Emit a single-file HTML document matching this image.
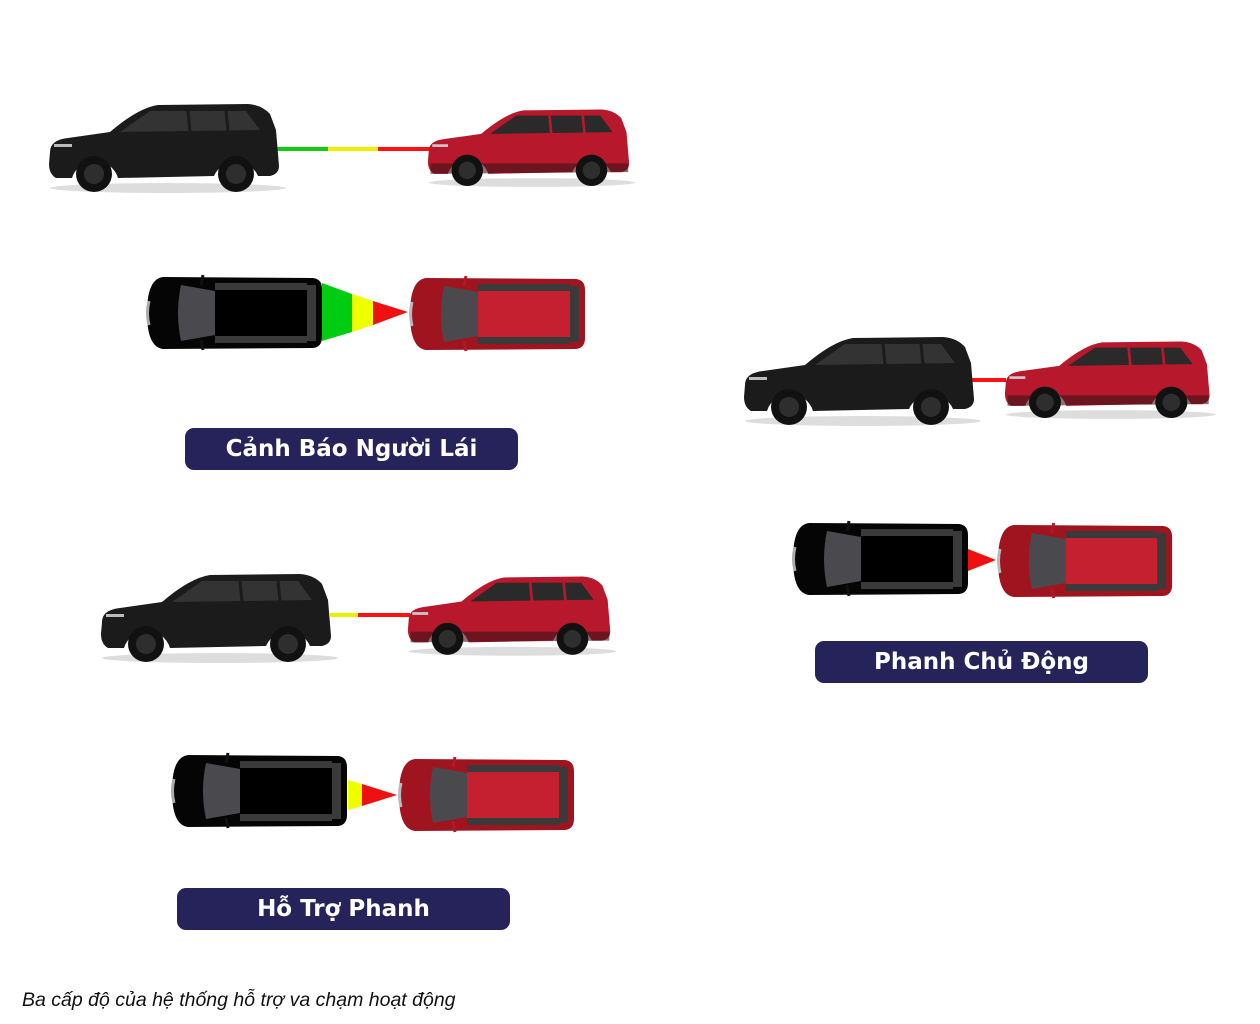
<!DOCTYPE html>
<html><head><meta charset="utf-8"><style>
html,body{margin:0;padding:0;background:#fff;}
body{width:1260px;height:1024px;position:relative;overflow:hidden;font-family:"Liberation Sans",sans-serif;}
.lbl{position:absolute;background:#25235a;color:#fff;border-radius:9px;height:42px;width:333px;text-align:center;font:bold 23px/43px "DejaVu Sans","Liberation Sans",sans-serif;}
.cap{position:absolute;left:22px;top:989px;font:italic 19.5px "Liberation Sans",sans-serif;color:#111;}
</style></head><body>
<svg width="1260" height="1024" style="position:absolute;left:0;top:0">
<defs>
<g id="sideB">
 <ellipse cx="120" cy="88" rx="118" ry="5" fill="#ddd"/>
 <path d="M2,52 Q2,40 20,38 L62,32 Q90,8 110,5 L200,4 Q214,5 222,14 L228,30 L231,66 Q231,74 222,76 L210,76 A24,24 0 0 0 166,76 L70,78 A24,24 0 0 0 24,78 L8,78 Q1,74 1,64 Z" fill="#1b1b1b"/>
 <path d="M72,32 L102,11 L198,11 L212,30 Z" fill="#333"/>
 <path d="M140,11 L142,32 M178,11 L180,31" stroke="#1b1b1b" stroke-width="3"/>
 <circle cx="46" cy="74" r="18" fill="#111"/><circle cx="46" cy="74" r="10" fill="#2e2e2e"/>
 <circle cx="188" cy="74" r="18" fill="#111"/><circle cx="188" cy="74" r="10" fill="#2e2e2e"/>
 <rect x="6" y="44" width="18" height="3" fill="#bbb"/>
</g>
<g id="sideR">
 <ellipse cx="120" cy="88" rx="118" ry="5" fill="#ddd"/>
 <path d="M2,52 Q2,40 20,38 L62,32 Q90,8 110,5 L200,4 Q214,5 222,14 L228,30 L231,66 Q231,74 222,76 L210,76 A24,24 0 0 0 166,76 L70,78 A24,24 0 0 0 24,78 L8,78 Q1,74 1,64 Z" fill="#b8182b"/>
 <path d="M72,32 L102,11 L198,11 L212,30 Z" fill="#2a2a2a"/>
 <path d="M140,11 L142,32 M178,11 L180,31" stroke="#b8182b" stroke-width="3"/>
 <path d="M4,66 L230,66 L230,76 L4,78Z" fill="#3a1418" opacity=".6"/>
 <circle cx="46" cy="74" r="18" fill="#111"/><circle cx="46" cy="74" r="10" fill="#2e2e2e"/>
 <circle cx="188" cy="74" r="18" fill="#111"/><circle cx="188" cy="74" r="10" fill="#2e2e2e"/>
 <rect x="6" y="44" width="18" height="3" fill="#ccc"/>
</g>
<g id="topB">
 <path d="M18,2 L168,3 Q177,4 177,14 L177,62 Q177,72 168,73 L18,74 Q2,72 2,38 Q2,4 18,2 Z" fill="#050505"/>
 <path d="M36,10 Q30,38 36,66 L70,60 L70,16 Z" fill="#4a4a4e"/>
 <rect x="70" y="8" width="92" height="7" fill="#3a3a3a"/>
 <rect x="70" y="61" width="92" height="7" fill="#3a3a3a"/>
 <rect x="70" y="15" width="92" height="46" fill="#000"/>
 <rect x="162" y="10" width="9" height="56" fill="#3a3a3a"/>
 <path d="M58,0 L56,10 M58,75 L56,65" stroke="#111" stroke-width="3"/>
 <path d="M4,26 Q1,38 4,50" stroke="#aaa" stroke-width="3" fill="none"/>
</g>
<g id="topR">
 <path d="M18,2 L168,3 Q177,4 177,14 L177,62 Q177,72 168,73 L18,74 Q2,72 2,38 Q2,4 18,2 Z" fill="#a0141f"/>
 <path d="M36,10 Q30,38 36,66 L70,60 L70,16 Z" fill="#4a4a4e"/>
 <rect x="70" y="8" width="92" height="7" fill="#3a3a3a"/>
 <rect x="70" y="61" width="92" height="7" fill="#3a3a3a"/>
 <rect x="70" y="15" width="92" height="46" fill="#c4202f"/>
 <rect x="162" y="10" width="9" height="56" fill="#3a3a3a"/>
 <path d="M58,0 L56,10 M58,75 L56,65" stroke="#b01828" stroke-width="3"/>
 <path d="M4,26 Q1,38 4,50" stroke="#bbb" stroke-width="3" fill="none"/>
</g>
</defs>

<line x1="277" y1="149" x2="328" y2="149" stroke="#11cc11" stroke-width="4"/>
<line x1="328" y1="149" x2="378" y2="149" stroke="#eeee00" stroke-width="4"/>
<line x1="378" y1="149" x2="430" y2="149" stroke="#ff1111" stroke-width="4"/>
<use href="#sideB" transform="translate(48,100)"/>
<use href="#sideR" transform="translate(427,106) scale(0.875,0.87)"/>
<polygon points="322,283 352,294 352,332 322,341" fill="#00cc11"/>
<polygon points="352,294 373,301 373,325 352,332" fill="#eeff00"/>
<polygon points="373,301 408,312 373,325" fill="#ee1111"/>
<use href="#topB" transform="translate(145,275)"/>
<use href="#topR" transform="translate(408,276)"/>

<line x1="330" y1="615" x2="358" y2="615" stroke="#eeee00" stroke-width="4"/>
<line x1="358" y1="615" x2="410" y2="615" stroke="#ff1111" stroke-width="4"/>
<use href="#sideB" transform="translate(100,570)"/>
<use href="#sideR" transform="translate(407,573) scale(0.88,0.89)"/>
<polygon points="348,780 362,784 362,806 348,810" fill="#eeff00"/>
<polygon points="362,784 397,795 362,806" fill="#ee1111"/>
<use href="#topB" transform="translate(170,753)"/>
<use href="#topR" transform="translate(397,757)"/>

<line x1="972" y1="380" x2="1006" y2="380" stroke="#ff1111" stroke-width="4"/>
<use href="#sideB" transform="translate(743,333)"/>
<use href="#sideR" transform="translate(1004,338) scale(0.89,0.87)"/>
<polygon points="968,549 996,560 968,571" fill="#ee1111"/>
<use href="#topB" transform="translate(791,521)"/>
<use href="#topR" transform="translate(996,523) scale(0.995,1)"/>
</svg>

<div class="lbl" style="left:185px;top:428px;">Cảnh Báo Người Lái</div>
<div class="lbl" style="left:177px;top:888px;">Hỗ Trợ Phanh</div>
<div class="lbl" style="left:815px;top:641px;">Phanh Chủ Động</div>
<div class="cap">Ba cấp độ của hệ thống hỗ trợ va chạm hoạt động</div>
</body></html>
